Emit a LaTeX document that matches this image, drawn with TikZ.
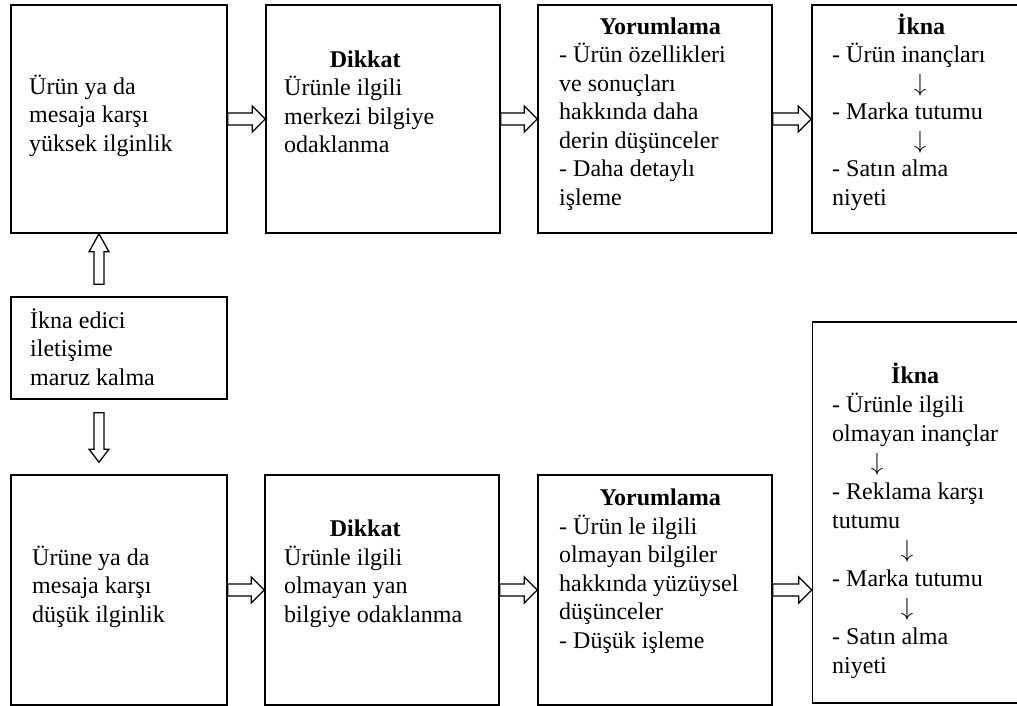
\documentclass[tikz,border=0pt]{standalone}
\usepackage{fontspec}
\setmainfont{Liberation Serif}
\usetikzlibrary{calc}
\tikzset{
    kutu/.style={draw, rectangle, line width=1.6pt, inner sep=0pt},
    % anchor: son satirin tabani
    metin/.style={anchor=base west, inner sep=0pt, align=left,
        font=\fontsize{24}{28.5}\selectfont},
    blok/.style={draw, line width=1.3pt, fill=white, line join=miter},
}
% ortalanmis satir
\newcommand{\orta}[2]{\makebox[#1pt]{#2}}
\newcommand{\asagi}{$\downarrow$}
% icibos blok ok: kuyruk, uc, govde yari, bas yari, bas uzunlugu
\newcommand{\blokok}[5]{%
    \coordinate (bh) at ($(#2)!#5!(#1)$);
    \draw[blok] ($(#1)!#3!90:(#2)$) -- ($(bh)!#3!90:(#2)$) -- ($(bh)!#4!90:(#2)$) -- (#2)
        -- ($(bh)!#4!-90:(#2)$) -- ($(bh)!#3!-90:(#2)$) -- ($(#1)!#3!-90:(#2)$) -- cycle;
}

\begin{document}
\begin{tikzpicture}[x=1pt, y=-1pt]
    \useasboundingbox (0,0) rectangle (1017,706);
    \clip (0,0) rectangle (1017,706);

    % kutular
    \node[kutu, minimum width=216pt, minimum height=228pt] (y1) at (119,119) {};
    \node[kutu, minimum width=234pt, minimum height=228pt] (y2) at (383,119) {};
    \node[kutu, minimum width=234pt, minimum height=228pt] (y3) at (655,119) {};
    \node[kutu, minimum width=218pt, minimum height=228pt] (y4) at (921,119) {};
    \node[kutu, minimum width=216pt, minimum height=102pt] (m) at (119,348) {};
    \node[kutu, minimum width=216pt, minimum height=230pt] (a1) at (119,590) {};
    \node[kutu, minimum width=234pt, minimum height=230pt] (a2) at (382,590) {};
    \node[kutu, minimum width=234pt, minimum height=230pt] (a3) at (655,590) {};
    \node[kutu, minimum width=218pt, minimum height=381pt] (a4) at (921.5,512.5) {};

    % metinler
    \node[metin] (y1t) at (29,151) {Ürün ya da\\mesaja karşı\\yüksek ilginlik};
    \node[metin] (y2t) at (284,153) {\orta{162}{\textbf{Dikkat}}\\Ürünle ilgili\\merkezi bilgiye\\odaklanma};
    \node[metin] (y3t) at (559,205) {\orta{202}{\textbf{Yorumlama}}\\- Ürün özellikleri\\ve sonuçları\\hakkında daha\\derin düşünceler\\- Daha detaylı\\işleme};
    \node[metin] (y4t) at (832,205) {\orta{178}{\textbf{İkna}}\\- Ürün inançları\\\orta{176}{\asagi}\\- Marka tutumu\\\orta{176}{\asagi}\\- Satın alma\\niyeti};
    \node[metin] (mt) at (30,385) {İkna edici\\iletişime\\maruz kalma};
    \node[metin] (a1t) at (32,622) {Ürüne ya da\\mesaja karşı\\düşük ilginlik};
    \node[metin] (a2t) at (284,622) {\orta{162}{\textbf{Dikkat}}\\Ürünle ilgili\\olmayan yan\\bilgiye odaklanma};
    \node[metin] (a3t) at (559,648) {\orta{202}{\textbf{Yorumlama}}\\- Ürün le ilgili\\olmayan bilgiler\\hakkında yüzüysel\\düşünceler\\- Düşük işleme};
    \node[metin, font=\fontsize{24}{29}\selectfont] (a4t) at (832,673) {\orta{166}{\textbf{İkna}}\\- Ürünle ilgili\\olmayan inançlar\\\orta{90}{\asagi}\\- Reklama karşı\\tutumu\\\orta{150}{\asagi}\\- Marka tutumu\\\orta{150}{\asagi}\\- Satın alma\\niyeti};

    % oklar
    \coordinate (mk1) at ($(m.north)+(-20,-12)$);
    \coordinate (y1u) at ($(y1.south)+(-20,0)$);
    \coordinate (mk2) at ($(m.south)+(-20,13)$);
    \coordinate (a1u) at ($(a1.north)+(-20,-12)$);
    \coordinate (a4g) at (a3.east -| a4.west);

    \blokok{y1.east}{y2.west}{6pt}{13pt}{13pt}
    \blokok{y2.east}{y3.west}{6pt}{13pt}{13pt}
    \blokok{y3.east}{y4.west}{6pt}{13pt}{13pt}
    \blokok{a1.east}{a2.west}{6pt}{13pt}{13pt}
    \blokok{a2.east}{a3.west}{6pt}{13pt}{13pt}
    \blokok{a3.east}{a4g}{6pt}{13pt}{13pt}
    \blokok{mk1}{y1u}{5pt}{10pt}{18pt}
    \blokok{mk2}{a1u}{5pt}{10pt}{13pt}
\end{tikzpicture}
\end{document}
